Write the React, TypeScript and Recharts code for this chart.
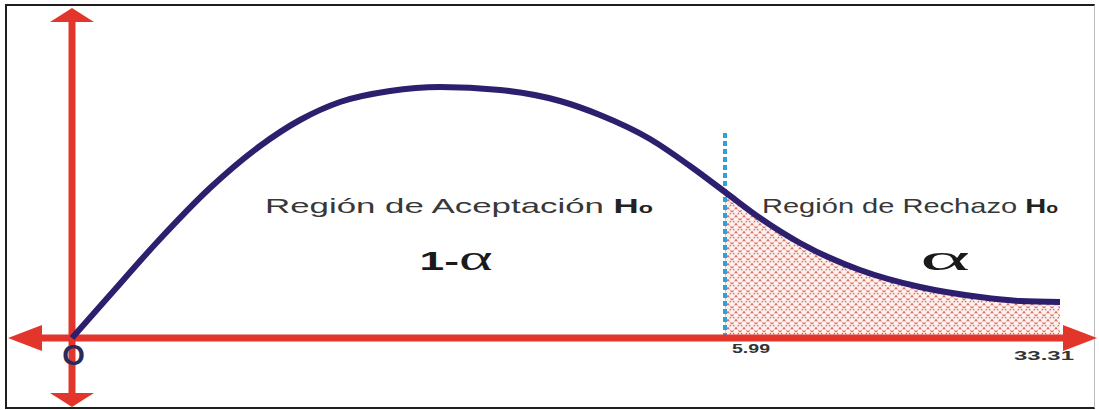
import React from "react";
import { ComposedChart, Line, Area, XAxis, YAxis, ReferenceLine, ReferenceDot } from "recharts";

// schematic density curve (x: 1 unit = 100px from the origin, y: peak ~1)
const curveX = [0, 0.38, 0.88, 1.38, 1.88, 2.28, 2.68, 3.18, 3.68, 4.28, 4.88, 5.28, 5.78, 6.18, 6.53, 6.88, 7.28, 7.88, 8.48, 9.08, 9.48, 9.88];
const curveY = [0, 0.172, 0.396, 0.6, 0.768, 0.872, 0.944, 0.988, 1.004, 0.992, 0.948, 0.892, 0.796, 0.688, 0.584, 0.48, 0.38, 0.272, 0.204, 0.164, 0.148, 0.144];
const critical = 6.53;
const tickLabels = ["O", "5.99", "33.31"];
const regionLabels = ["Región de Aceptación", "Región de Rechazo"];
const areaLabels = ["1-α", "α"];

const RED = "#e2362c";
const NAVY = "#2d1f6e";
const FONT = "'Liberation Sans', Arial, sans-serif";

const data = curveX.map((x, i) => ({
  x,
  y: curveY[i],
  tail: x >= critical ? curveY[i] : null,
}));

const HAxis = (p: any) => {
  const { x1, y1, x2 } = p;
  const L = 34, H = 13;
  return (
    <g>
      <line x1={x1 + L - 2} y1={y1} x2={x2 - L + 2} y2={y1} stroke={RED} strokeWidth={7} />
      <polygon points={`${x1},${y1} ${x1 + L},${y1 - H} ${x1 + L},${y1 + H}`} fill={RED} />
      <polygon points={`${x2},${y1} ${x2 - L},${y1 - H} ${x2 - L},${y1 + H}`} fill={RED} />
    </g>
  );
};

const VAxis = (p: any) => {
  const { x1, y1, y2 } = p;
  const L = 14, W = 22;
  return (
    <g>
      <line x1={x1} y1={y1 + L - 2} x2={x1} y2={y2 - L + 2} stroke={RED} strokeWidth={7} />
      <polygon points={`${x1},${y1} ${x1 - W},${y1 + L} ${x1 + W},${y1 + L}`} fill={RED} />
      <polygon points={`${x1},${y2} ${x1 - W},${y2 - L} ${x1 + W},${y2 - L}`} fill={RED} />
    </g>
  );
};

const regionText = (label: string, width: number) => (p: any) => (
  <text x={p.cx} y={p.cy} textAnchor="middle" fontFamily={FONT} fontSize={21} fill="#383838"
    textLength={width} lengthAdjust="spacingAndGlyphs">
    {label}{" "}
    <tspan fontWeight="bold" fill="#222">H</tspan>
    <tspan fontWeight="bold" fontSize={14} fill="#222">o</tspan>
  </text>
);

const alphaText = (label: string, width: number) => (p: any) => {
  const head = label.slice(0, -1);
  return (
    <text x={p.cx} y={p.cy} textAnchor="middle" fill="#1a1a1a" textLength={width} lengthAdjust="spacingAndGlyphs">
      {head && <tspan fontFamily={FONT} fontWeight="bold" fontSize={25}>{head}</tspan>}
      <tspan fontFamily="'Liberation Serif', serif" fontSize={36}>α</tspan>
    </text>
  );
};

const tickText = (label: string, size: number, width: number | undefined, color: string) => (p: any) => (
  <text x={p.cx} y={p.cy} textAnchor="middle" fontFamily={FONT} fontSize={size} fill={color} fontWeight="bold"
    {...(width ? { textLength: width, lengthAdjust: "spacingAndGlyphs" } : {})}>
    {label}
  </text>
);

export default function App() {
  return (
    <div style={{ position: "absolute", left: 0, top: 0, width: 1099, height: 410, background: "#fff" }}>
      <div style={{
        position: "absolute", left: 5, top: 4, width: 1090, height: 405, boxSizing: "border-box",
        borderTop: "2px solid #1e1e1e", borderLeft: "2px solid #1e1e1e", borderBottom: "2px solid #1e1e1e",
        borderRight: "1px solid #bbb",
      }} />
      <div style={{ position: "absolute", left: 0, top: 0 }}>
        <ComposedChart width={1099} height={410} data={data} margin={{ top: 0, right: 0, bottom: 0, left: 0 }}>
          <defs>
            <pattern id="hatch" width={8} height={8} patternUnits="userSpaceOnUse">
              <rect width={8} height={8} fill="#fdf1ee" />
              <path d="M0,0 L8,8 M8,0 L0,8" stroke="#c9473c" strokeWidth={1.1} strokeDasharray="2 1.5" opacity={0.8} />
            </pattern>
          </defs>
          <XAxis type="number" dataKey="x" domain={[-0.72, 10.27]} allowDataOverflow hide />
          <YAxis type="number" domain={[-0.288, 1.352]} allowDataOverflow hide />
          <Area dataKey="tail" type="monotone" baseValue={0} stroke="none" fill="url(#hatch)" fillOpacity={1}
            dot={false} activeDot={false} isAnimationActive={false} connectNulls={false} />
          <ReferenceLine segment={[{ x: critical, y: 0 }, { x: critical, y: 0.82 }]} stroke="#2aa4d5"
            strokeWidth={4} strokeDasharray="5 3" ifOverflow="visible" />
          <ReferenceLine segment={[{ x: -0.64, y: 0 }, { x: 10.25, y: 0 }]} shape={HAxis} ifOverflow="visible" />
          <ReferenceLine segment={[{ x: 0, y: 1.32 }, { x: 0, y: -0.276 }]} shape={VAxis} ifOverflow="visible" />
          <Line dataKey="y" type="monotone" stroke={NAVY} strokeWidth={6} dot={false} activeDot={false}
            isAnimationActive={false} />
          <ReferenceDot x={3.87} y={0.5} ifOverflow="visible" shape={regionText(regionLabels[0], 388)} />
          <ReferenceDot x={8.38} y={0.5} ifOverflow="visible" shape={regionText(regionLabels[1], 296)} />
          <ReferenceDot x={3.84} y={0.272} ifOverflow="visible" shape={alphaText(areaLabels[0], 73)} />
          <ReferenceDot x={8.73} y={0.272} ifOverflow="visible" shape={alphaText(areaLabels[1], 50)} />
          <ReferenceDot x={0.015} y={-0.108} ifOverflow="visible" shape={tickText(tickLabels[0], 29, undefined, "#2a2a5c")} />
          <ReferenceDot x={6.79} y={-0.06} ifOverflow="visible" shape={tickText(tickLabels[1], 12, 38, "#333")} />
          <ReferenceDot x={9.72} y={-0.088} ifOverflow="visible" shape={tickText(tickLabels[2], 13, 60, "#333")} />
        </ComposedChart>
      </div>
    </div>
  );
}
